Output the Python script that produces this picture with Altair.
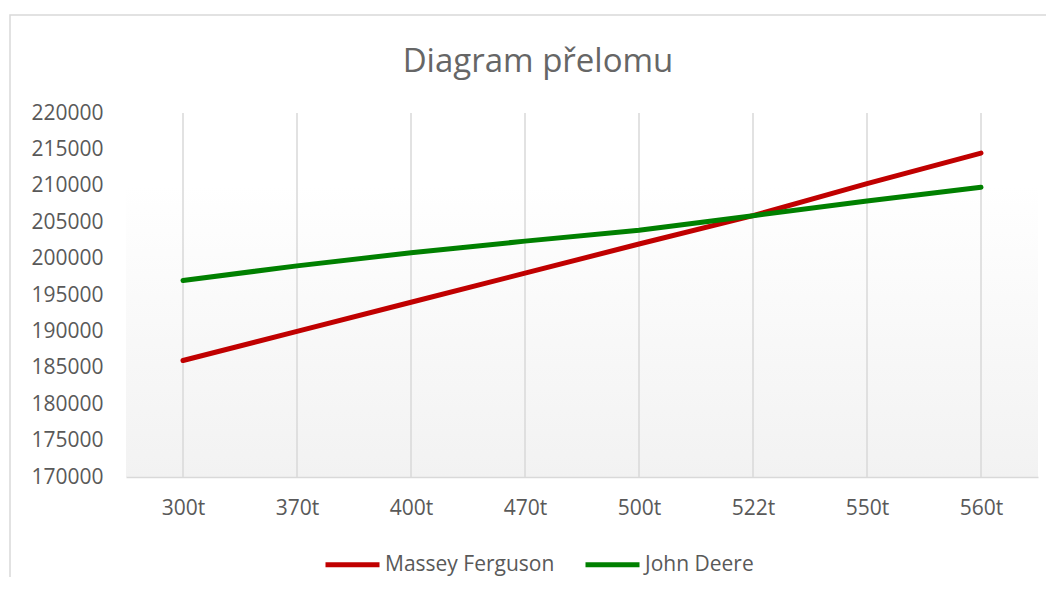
import altair as alt
import pandas as pd

categories = ["300t", "370t", "400t", "470t", "500t", "522t", "550t", "560t"]
series_names = ["Massey Ferguson", "John Deere"]
massey = [186000, 190000, 194000, 198000, 202000, 205900, 210300, 214500]
deere = [197000, 199000, 200800, 202400, 203900, 205900, 207900, 209800]
y_ticks = list(range(170000, 220001, 5000))
colors = ["#C00000", "#008000"]
title_text = "Diagram přelomu"

rows = []
for name, vals in zip(series_names, [massey, deere]):
    for c, v in zip(categories, vals):
        rows.append({"Kategorie": c, "Série": name, "Hodnota": v})
df = pd.DataFrame(rows)
cat_df = pd.DataFrame({"Kategorie": categories})

W, H = 912, 364
FONT = "Open Sans"
TXT = "#595959"

xscale = alt.Scale(type="point", domain=categories, padding=0.5)
xaxis = alt.Axis(title=None, labelAngle=0, ticks=False, grid=False,
                 domain=True, domainColor="#d9d9d9", domainWidth=1.5,
                 labelFont=FONT, labelFontSize=21, labelColor=TXT,
                 labelPadding=20, zindex=1)

background = alt.Chart(alt.Data(values=[{}])).mark_rect(
    fill=alt.LinearGradient(
        gradient="linear",
        stops=[alt.GradientStop(color="#ffffff", offset=0),
               alt.GradientStop(color="#ffffff", offset=0.2),
               alt.GradientStop(color="#f2f2f2", offset=1)],
        x1=0, x2=0, y1=0, y2=1),
).encode(x=alt.value(0), x2=alt.value(W), y=alt.value(0), y2=alt.value(H))

border = alt.Chart(alt.Data(values=[{}])).mark_rect(
    fillOpacity=0, stroke="#d9d9d9", strokeWidth=1.5, clip=False
).encode(x=alt.value(-116), x2=alt.value(1000), y=alt.value(-98), y2=alt.value(600))

title = alt.Chart(alt.Data(values=[{}])).mark_text(
    text=title_text, font=FONT, fontSize=33, color="#666666",
    align="center", baseline="alphabetic", clip=False
).encode(x=alt.value(538 - 126), y=alt.value(72 - 113))

grid = alt.Chart(cat_df).mark_rule(color="#d9d9d9", strokeWidth=1.5).encode(
    x=alt.X("Kategorie:N", scale=xscale, sort=categories, axis=xaxis),
    y=alt.value(0), y2=alt.value(H),
)

lines = alt.Chart(df).mark_line(strokeWidth=5, strokeCap="round", strokeJoin="round").encode(
    x=alt.X("Kategorie:N", scale=xscale, sort=categories, axis=xaxis),
    y=alt.Y("Hodnota:Q", scale=alt.Scale(domain=[170000, 220000], nice=False, zero=False),
            axis=alt.Axis(title=None, values=y_ticks, format="d", ticks=False, domain=False,
                          grid=False, labelFont=FONT, labelFontSize=21, labelColor=TXT,
                          labelPadding=23)),
    color=alt.Color("Série:N", scale=alt.Scale(domain=series_names, range=colors),
                    sort=series_names,
                    legend=alt.Legend(title=None, orient="none", direction="horizontal",
                                      legendX=197, legendY=422, symbolType="stroke",
                                      symbolSize=2916, symbolStrokeWidth=5,
                                      labelFont=FONT, labelFontSize=21, labelColor=TXT,
                                      labelLimit=400, labelOffset=3, columnPadding=20,
                                      padding=0)),
    detail="Série:N",
)

chart = alt.layer(border, background, grid, lines, title).properties(
    width=W, height=H,
    padding={"left": 118, "top": 105, "right": 8, "bottom": 100},
    autosize=alt.AutoSizeParams(type="none"),
).configure_view(stroke=None)

chart.save("out.html", embed_options={"renderer": "svg", "actions": False})
